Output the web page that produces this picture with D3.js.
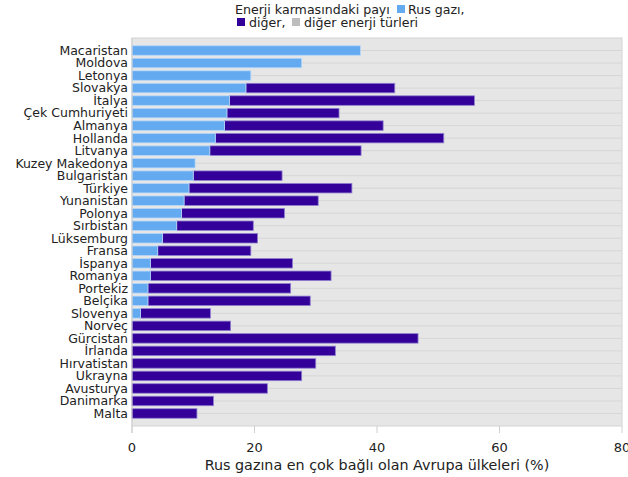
<!DOCTYPE html>
<html>
<head>
<meta charset="utf-8">
<script src="https://cdn.jsdelivr.net/npm/d3@7"></script>
<style>
body { margin: 0; background: #fff; }
text { font-family: "DejaVu Sans", sans-serif; fill: #222; }
</style>
</head>
<body>
<script>
var countries = ['Macaristan', 'Moldova', 'Letonya', 'Slovakya', 'İtalya', 'Çek Cumhuriyeti',
    'Almanya', 'Hollanda', 'Litvanya', 'Kuzey Makedonya', 'Bulgaristan', 'Türkiye',
    'Yunanistan', 'Polonya', 'Sırbistan', 'Lüksemburg', 'Fransa', 'İspanya', 'Romanya',
    'Portekiz', 'Belçika', 'Slovenya', 'Norveç', 'Gürcistan', 'İrlanda', 'Hırvatistan',
    'Ukrayna', 'Avusturya', 'Danimarka', 'Malta'];

// Rus gazı payı
var rusGazi = [37.3, 27.7, 19.4, 18.6, 15.9, 15.5, 15.1, 13.6, 12.7, 10.3, 10.0, 9.3,
    8.5, 8.1, 7.3, 5.0, 4.2, 3.0, 3.0, 2.6, 2.6, 1.4, 0, 0, 0, 0, 0, 0, 0, 0];

// diğer (toplam bar ucu)
var toplam = [37.3, 27.7, 19.4, 42.9, 55.9, 33.8, 41.0, 50.9, 37.4, 10.3, 24.5, 35.9,
    30.4, 24.9, 19.8, 20.5, 19.4, 26.2, 32.5, 25.9, 29.1, 12.8, 16.1, 46.7, 33.2, 30.0,
    27.7, 22.1, 13.3, 10.6];

var xTicks = [0, 20, 40, 60, 80];

var svg = d3.select('body').append('svg')
    .attr('width', 628)
    .attr('height', 477);

var plotL = 132, plotR = 622, plotT = 38, plotB = 426;

var x = d3.scaleLinear().domain([0, 80]).range([plotL, plotR]);
var y = d3.scaleLinear().domain([0, countries.length + 1]).range([plotT, plotB]);
var barH = 9.5;

// plot background
svg.append('rect')
    .attr('x', plotL)
    .attr('y', plotT)
    .attr('width', plotR - plotL)
    .attr('height', plotB - plotT)
    .attr('fill', '#e6e6e6')
    .attr('stroke', '#d4d4d4');

// horizontal grid lines through bar centres
svg.selectAll('.grid')
    .data(d3.range(1, countries.length + 1))
    .enter().append('line')
    .attr('x1', plotL)
    .attr('x2', plotR)
    .attr('y1', function (d) { return y(d); })
    .attr('y2', function (d) { return y(d); })
    .attr('stroke', '#d6d6d6')
    .attr('stroke-width', 1);

// diğer (purple)
svg.selectAll('.diger')
    .data(countries)
    .enter().append('rect')
    .attr('x', function (d, i) { return x(rusGazi[i]); })
    .attr('y', function (d, i) { return y(i + 1) - barH / 2; })
    .attr('width', function (d, i) { return Math.max(0, x(toplam[i]) - x(rusGazi[i])); })
    .attr('height', barH)
    .attr('fill', '#330099')
    .attr('stroke', '#8f7fd0')
    .attr('stroke-width', 0.8);

// Rus gazı (light blue)
svg.selectAll('.rus')
    .data(countries)
    .enter().append('rect')
    .filter(function (d, i) { return rusGazi[i] > 0; })
    .attr('x', x(0))
    .attr('y', function (d) { return y(countries.indexOf(d) + 1) - barH / 2; })
    .attr('width', function (d) { return x(rusGazi[countries.indexOf(d)]) - x(0); })
    .attr('height', barH)
    .attr('fill', '#63aaf0')
    .attr('stroke', '#b8d8f8')
    .attr('stroke-width', 0.8);

// country labels
svg.selectAll('.lbl')
    .data(countries)
    .enter().append('text')
    .attr('x', plotL - 4)
    .attr('y', function (d, i) { return y(i + 1); })
    .attr('dy', '0.35em')
    .attr('text-anchor', 'end')
    .attr('font-size', 12.5)
    .text(function (d) { return d; });

// left axis line
svg.append('line')
    .attr('x1', plotL).attr('x2', plotL)
    .attr('y1', plotT).attr('y2', plotB + 7)
    .attr('stroke', '#cfcfcf');

// x ticks
svg.selectAll('.tick')
    .data(xTicks)
    .enter().append('line')
    .attr('x1', function (d) { return x(d); })
    .attr('x2', function (d) { return x(d); })
    .attr('y1', plotB)
    .attr('y2', plotB + 7)
    .attr('stroke', '#cfcfcf');

svg.selectAll('.tlbl')
    .data(xTicks)
    .enter().append('text')
    .attr('x', function (d) { return x(d); })
    .attr('y', 452)
    .attr('text-anchor', 'middle')
    .attr('font-size', 13)
    .text(function (d) { return d; });

svg.append('text')
    .attr('x', 377)
    .attr('y', 470)
    .attr('text-anchor', 'middle')
    .attr('font-size', 14.3)
    .text('Rus gazına en çok bağlı olan Avrupa ülkeleri (%)');

// legend
svg.append('text')
    .attr('x', 235)
    .attr('y', 14)
    .attr('font-size', 12.6)
    .text('Enerji karmasındaki payı');
svg.append('rect')
    .attr('x', 397).attr('y', 5).attr('width', 8).attr('height', 8)
    .attr('fill', '#63aaf0');
svg.append('text')
    .attr('x', 408)
    .attr('y', 14)
    .attr('font-size', 12.6)
    .text('Rus gazı,');

svg.append('rect')
    .attr('x', 237).attr('y', 18).attr('width', 8).attr('height', 8)
    .attr('fill', '#330099');
svg.append('text')
    .attr('x', 249)
    .attr('y', 27)
    .attr('font-size', 12.6)
    .text('diğer,');
svg.append('rect')
    .attr('x', 292).attr('y', 18).attr('width', 8).attr('height', 8)
    .attr('fill', '#bdbdbd');
svg.append('text')
    .attr('x', 304)
    .attr('y', 27)
    .attr('font-size', 12.6)
    .text('diğer enerji türleri');
</script>
</body>
</html>
